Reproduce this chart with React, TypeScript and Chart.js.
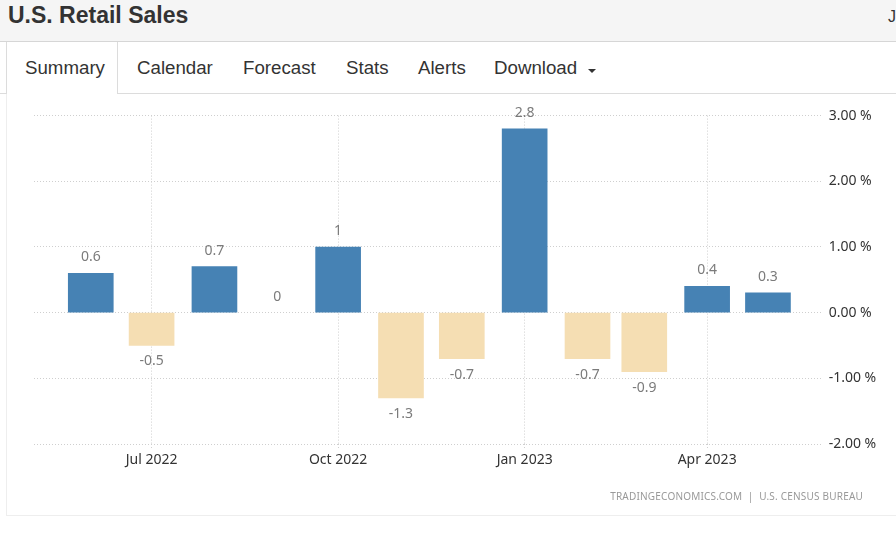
import React, { useEffect, useRef } from "react";
import { Chart, registerables } from "chart.js";

Chart.register(...registerables);

const MONTHS = [
  "2022-06", "2022-07", "2022-08", "2022-09", "2022-10", "2022-11",
  "2022-12", "2023-01", "2023-02", "2023-03", "2023-04", "2023-05",
];
const VALUES = [0.6, -0.5, 0.7, 0, 1, -1.3, -0.7, 2.8, -0.7, -0.9, 0.4, 0.3];
const TICK_MONTHS = ["2022-07", "2022-10", "2023-01", "2023-04"];
const TICK_LABELS = ["Jul 2022", "Oct 2022", "Jan 2023", "Apr 2023"];
const Y_MIN = -2;
const Y_MAX = 3;
const TABS = ["Summary", "Calendar", "Forecast", "Stats", "Alerts", "Download"];
const TAB_X = [25, 137, 243, 346, 418, 494];

const POS_COLOR = "#4682B4";
const NEG_COLOR = "#F5DEB3";
const GRID_COLOR = "#cfcfcf";
const TICK_FONT = { family: "'Noto Sans', 'Open Sans', sans-serif", size: 14 };

const dayOf = (ym: string) => {
  const [y, m] = ym.split("-").map(Number);
  return Date.UTC(y, m - 1, 1) / 86400000;
};

const dataLabels = {
  id: "dataLabels",
  afterDatasetsDraw(chart: any) {
    const ctx = chart.ctx;
    const meta = chart.getDatasetMeta(0);
    ctx.save();
    ctx.font = "14px 'Noto Sans', 'Open Sans', sans-serif";
    ctx.fillStyle = "#7b7b7b";
    ctx.textAlign = "center";
    ctx.textBaseline = "middle";
    meta.data.forEach((el: any, i: number) => {
      const v = VALUES[i];
      const y = v >= 0 ? el.y - 16 : el.y + 16;
      ctx.fillText(String(v), el.x, y);
    });
    ctx.restore();
  },
};

function RetailChart() {
  const ref = useRef<HTMLCanvasElement | null>(null);
  useEffect(() => {
    if (!ref.current) return;
    const chart = new Chart(ref.current, {
      type: "bar",
      data: {
        datasets: [
          {
            data: MONTHS.map((m, i) => ({ x: dayOf(m), y: VALUES[i] })),
            backgroundColor: VALUES.map((v) =>
              v > 0 ? POS_COLOR : v < 0 ? NEG_COLOR : "rgba(0,0,0,0)"
            ),
            borderWidth: 0,
            barThickness: 45,
          } as any,
        ],
      },
      options: {
        animation: false,
        responsive: false,
        layout: { padding: { left: 34, top: 22.6, right: 0, bottom: 0 } },
        plugins: { legend: { display: false }, tooltip: { enabled: false } },
        scales: {
          x: {
            type: "linear",
            min: dayOf(MONTHS[0]) - 28,
            max: dayOf(MONTHS[MONTHS.length - 1]) + 27,
            offset: false,
            afterBuildTicks: (scale: any) => {
              scale.ticks = TICK_MONTHS.map((m) => ({ value: dayOf(m) }));
            },
            afterFit: (scale: any) => {
              scale.height = 71;
            },
            ticks: {
              autoSkip: false,
              maxRotation: 0,
              padding: 4,
              color: "#333",
              font: TICK_FONT,
              callback: (_v: any, i: number) => TICK_LABELS[i],
            },
            grid: {
              offset: false,
              color: GRID_COLOR,
              lineWidth: 1,
              drawTicks: true,
              tickLength: 4,
              tickColor: GRID_COLOR,
              tickBorderDash: [1, 2],
            },
            border: { display: false, dash: [1, 2] },
          },
          y: {
            position: "right",
            min: Y_MIN,
            max: Y_MAX,
            afterFit: (scale: any) => {
              scale.width = 73.3;
            },
            ticks: {
              stepSize: 1,
              padding: 6,
              color: "#333",
              font: TICK_FONT,
              callback: (v: any) => Number(v).toFixed(2) + " %",
            },
            grid: { color: GRID_COLOR, lineWidth: 1, drawTicks: false },
            border: { display: false, dash: [1, 2] },
          },
        },
      } as any,
      plugins: [dataLabels],
    });
    return () => chart.destroy();
  }, []);
  return (
    <canvas
      ref={ref}
      width={896}
      height={422}
      style={{ position: "absolute", left: 0, top: 93, width: 896, height: 422 }}
    />
  );
}

export default function App() {
  const line = (s: React.CSSProperties) => (
    <div style={{ position: "absolute", ...s }} />
  );
  return (
    <div
      style={{
        position: "fixed",
        left: 0,
        top: 0,
        width: 896,
        height: 539,
        background: "#fff",
        overflow: "hidden",
        fontFamily: "'Liberation Sans', Arial, sans-serif",
      }}
    >
      <div
        style={{
          position: "absolute",
          left: 0,
          top: 0,
          width: 896,
          height: 41,
          background: "#f5f5f5",
          borderBottom: "1px solid #d6d6d6",
        }}
      />
      <div
        style={{
          position: "absolute",
          left: 8,
          top: 4,
          fontSize: 23,
          lineHeight: "23px",
          fontWeight: "bold",
          color: "#333",
          whiteSpace: "nowrap",
        }}
      >
        U.S. Retail Sales
      </div>
      <div
        style={{
          position: "absolute",
          left: 888,
          top: 9,
          fontSize: 16,
          lineHeight: "16px",
          color: "#333",
        }}
      >
        J
      </div>
      {line({ left: 0, top: 93, width: 7, height: 1, background: "#dcdcdc" })}
      {line({ left: 117, top: 93, width: 779, height: 1, background: "#dcdcdc" })}
      {line({ left: 6, top: 42, width: 1, height: 51, background: "#dcdcdc" })}
      {line({ left: 117, top: 42, width: 1, height: 52, background: "#dcdcdc" })}
      {line({ left: 6, top: 94, width: 1, height: 421, background: "#eeeeee" })}
      {line({ left: 6, top: 515, width: 890, height: 1, background: "#eeeeee" })}
      {TABS.map((t, i) => (
        <div
          key={t}
          style={{
            position: "absolute",
            left: TAB_X[i],
            top: 58,
            fontSize: 18.7,
            lineHeight: "19px",
            color: "#333",
            whiteSpace: "nowrap",
          }}
        >
          {t}
        </div>
      ))}
      <div
        style={{
          position: "absolute",
          left: 588,
          top: 69,
          width: 0,
          height: 0,
          borderLeft: "4px solid transparent",
          borderRight: "4px solid transparent",
          borderTop: "4px solid #333",
        }}
      />
      <RetailChart />
      <div
        style={{
          position: "absolute",
          right: 33,
          top: 490,
          fontSize: 10,
          lineHeight: "12px",
          letterSpacing: "0.2px",
          color: "#999",
          whiteSpace: "pre",
          fontFamily: "'Noto Sans', 'Open Sans', sans-serif",
        }}
      >
        TRADINGECONOMICS.COM  |  U.S. CENSUS BUREAU
      </div>
    </div>
  );
}
